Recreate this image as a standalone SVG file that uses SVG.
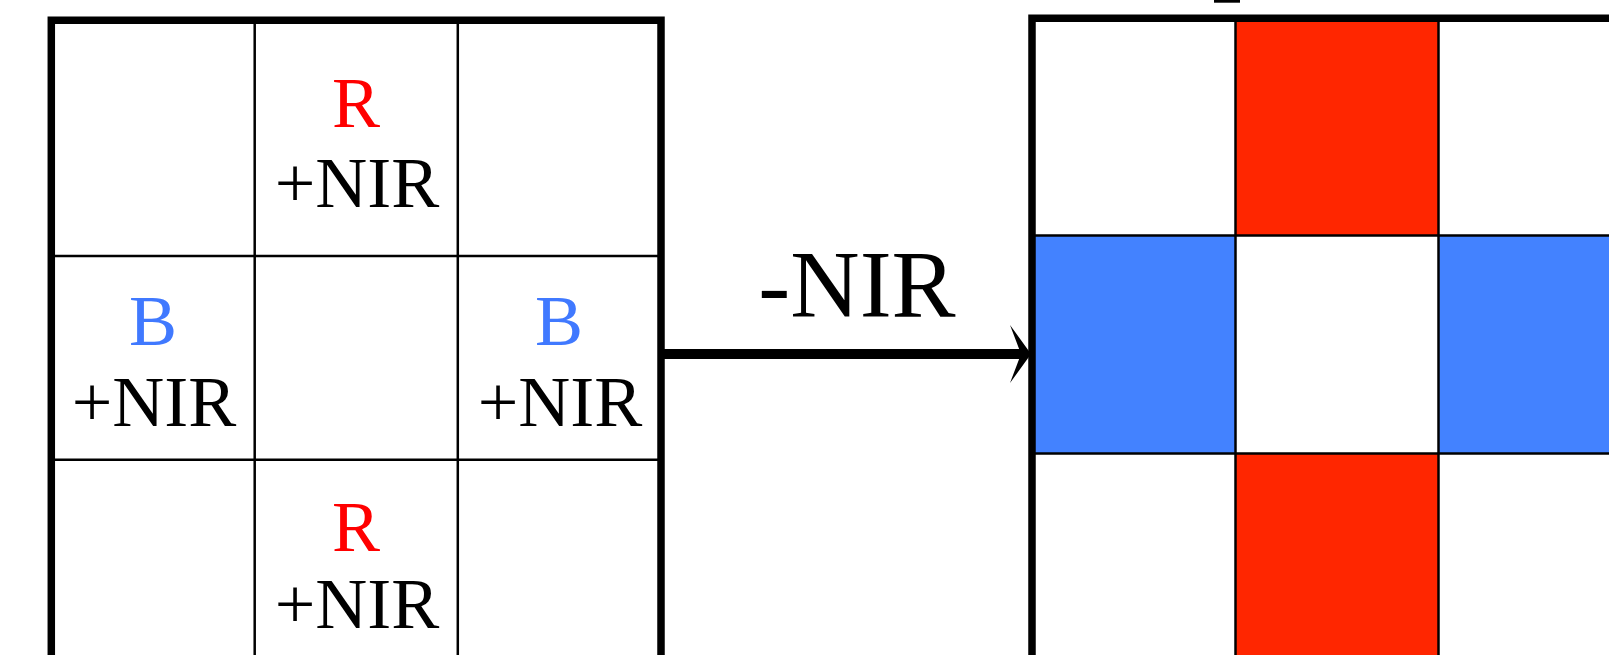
<svg xmlns="http://www.w3.org/2000/svg" width="1609" height="655" viewBox="0 0 1609 655">
  <style>
    .bg { fill: #ffffff; }
    .inner { stroke: #000000; stroke-width: 2.5; fill: none; }
    .outer { stroke: #000000; stroke-width: 7.5; fill: none; stroke-linejoin: miter; }
    .lbl { font-family: "Liberation Serif", "Times New Roman", serif; font-size: 72px; text-anchor: middle; }
    .red-t { fill: #ff0000; }
    .blue-t { fill: #4079ff; }
    .blk-t { fill: #000000; }
    .red-f { fill: #ff2600; }
    .blue-f { fill: #4382ff; }
    .arrow-line { stroke: #000000; stroke-width: 10; fill: none; }
    .arrow-head { fill: #000000; }
  </style>

  <rect class="bg" x="0" y="0" width="1609" height="655"/>

  <!-- Left grid: sensor mosaic with R/B + NIR sites -->
  <g id="left-grid">
    <g id="cell-r-top">
      <text class="lbl red-t" x="356" y="127">R</text>
      <text class="lbl blk-t" x="357" y="207">+NIR</text>
    </g>
    <g id="cell-b-left">
      <text class="lbl blue-t" x="153" y="345">B</text>
      <text class="lbl blk-t" x="154" y="426">+NIR</text>
    </g>
    <g id="cell-b-right">
      <text class="lbl blue-t" x="559" y="345">B</text>
      <text class="lbl blk-t" x="560" y="426">+NIR</text>
    </g>
    <g id="cell-r-bottom">
      <text class="lbl red-t" x="356" y="551">R</text>
      <text class="lbl blk-t" x="357" y="628">+NIR</text>
    </g>
    <g id="left-grid-lines">
      <line class="inner" x1="254.7" y1="20" x2="254.7" y2="660"/>
      <line class="inner" x1="457.8" y1="20" x2="457.8" y2="660"/>
      <line class="inner" x1="51.3" y1="256" x2="661" y2="256"/>
      <line class="inner" x1="51.3" y1="459.7" x2="661" y2="459.7"/>
      <path class="outer" d="M51.3,665 V20.3 H661 V665"/>
    </g>
  </g>

  <!-- Right grid: colour-only result -->
  <g id="right-grid">
    <g id="fill-r-top"><rect class="red-f" x="1235.5" y="18.3" width="203" height="217.2"/></g>
    <g id="fill-b-left"><rect class="blue-f" x="1032" y="235.5" width="203.5" height="218"/></g>
    <g id="fill-b-right"><rect class="blue-f" x="1438.5" y="235.5" width="203" height="218"/></g>
    <g id="fill-r-bottom"><rect class="red-f" x="1235.5" y="453.5" width="203" height="210"/></g>
    <g id="right-grid-lines">
      <line class="inner" x1="1235.5" y1="18" x2="1235.5" y2="660"/>
      <line class="inner" x1="1438.5" y1="18" x2="1438.5" y2="660"/>
      <line class="inner" x1="1032" y1="235.5" x2="1650" y2="235.5"/>
      <line class="inner" x1="1032" y1="453.5" x2="1650" y2="453.5"/>
      <path class="outer" d="M1032,665 V18.3 H1650"/>
    </g>
    <rect id="caption-edge" x="1214" y="0" width="26" height="2.7" fill="#000000"/>
  </g>

  <!-- Connector: subtraction step -->
  <g id="connectors">
    <line class="arrow-line" x1="661" y1="354" x2="1024" y2="354"/>
    <polygon class="arrow-head" points="1031,354 1010,325 1021,354 1010,383"/>
    <text class="lbl blk-t" x="857" y="317" style="font-size:96px">-NIR</text>
  </g>
</svg>
